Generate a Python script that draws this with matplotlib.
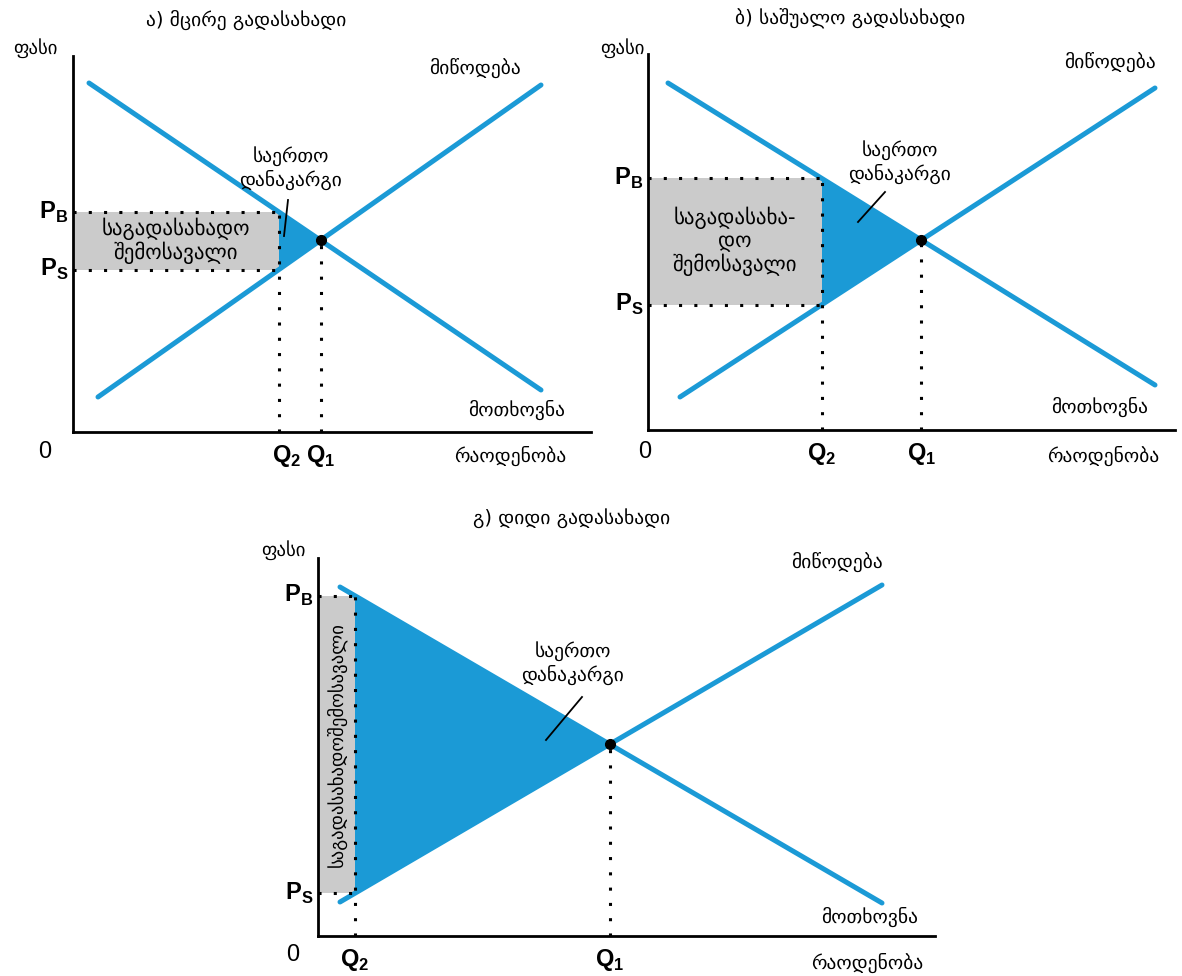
import numpy as np
import matplotlib.pyplot as plt

W, H = 1182, 976
plt.rcParams['font.family'] = ['DejaVu Sans']
plt.rcParams['mathtext.fontset'] = 'custom'
plt.rcParams['mathtext.rm'] = 'Liberation Sans'
plt.rcParams['mathtext.bf'] = 'Liberation Sans:bold'

BLUE = '#1b9ad6'
GRAY = '#cbcbcb'

# data, in units measured from each panel's origin
titles = ['ა) მცირე გადასახადი', 'ბ) საშუალო გადასახადი', 'გ) დიდი გადასახადი']
demand_x = [[16, 468], [20, 507], [22, 564]]
demand_y = [[349, 42], [347, 45], [349, 33]]
supply_x = [[25, 468], [32, 507], [22, 564]]
supply_y = [[35, 347], [33, 342], [34, 351]]
q2_vals = [206, 174, 37]
revenue_labels = ['საგადასახადო\nშემოსავალი', 'საგადასახა-\nდო\nშემოსავალი', 'საგადასახადოშემოსავალი']
loss_label = 'საერთო\nდანაკარგი'

# layout (pixels): origin x, origin y, axis width, axis height
boxes = [(73, 432, 518, 376), (648, 430, 527, 376), (318, 936, 617, 378)]
title_pos = [(246, 20), (850, 18), (572, 518)]
price_pos = [(35, 48), (622, 48), (283, 550)]
supply_lab = [(475, 68), (1110, 62), (837, 562)]
demand_lab = [(517, 410), (1100, 407), (870, 917)]
qty_lab = [(510, 456), (1103, 456), (867, 963)]
zero_pos = [(45, 452), (645, 452), (293, 955)]
loss_txt = [(218, 264), (252, 268), (255, 273)]
loss_line = [[(215, 232), (211, 196)], [(237, 238), (210, 208)], [(264, 239), (228, 196)]]
q_offsets = [(8, 0), (0, 0), (0, 0)]

fig = plt.figure(figsize=(W / 100, H / 100), dpi=100)


def fx(x):
    return x / W


def fy(y):
    return 1 - y / H


for i in range(3):
    x0, y0, w, h = boxes[i]
    ax = fig.add_axes([x0 / W, 1 - y0 / H, w / W, h / H])
    ax.set_xlim(0, w)
    ax.set_ylim(0, h)
    for s in ['top', 'right']:
        ax.spines[s].set_visible(False)
    for s in ['left', 'bottom']:
        ax.spines[s].set_linewidth(2)
    ax.set_xticks([])
    ax.set_yticks([])
    ax.patch.set_alpha(0)

    dx, dy = demand_x[i], demand_y[i]
    sx, sy = supply_x[i], supply_y[i]
    kd = (dy[1] - dy[0]) / (dx[1] - dx[0])
    ks = (sy[1] - sy[0]) / (sx[1] - sx[0])
    q1 = (sy[0] - ks * sx[0] - dy[0] + kd * dx[0]) / (kd - ks)
    p1 = dy[0] + kd * (q1 - dx[0])
    q2 = q2_vals[i]
    pb = dy[0] + kd * (q2 - dx[0])
    ps = sy[0] + ks * (q2 - sx[0])

    # tax revenue box and deadweight loss
    ax.fill_between([0, q2], ps, pb, color=GRAY, lw=0, zorder=1)
    ax.fill([q2, q2, q1], [pb, ps, p1], color=BLUE, lw=0, zorder=1)

    ax.plot(dx, dy, color=BLUE, lw=3.6, solid_capstyle='round', zorder=3, clip_on=False)
    ax.plot(sx, sy, color=BLUE, lw=3.6, solid_capstyle='round', zorder=3, clip_on=False)

    dot = dict(color='black', ls=(0, (1, 4)), lw=2.2, zorder=4, clip_on=False)
    ax.plot([0, q2], [pb, pb], **dot)
    ax.plot([0, q2], [ps, ps], **dot)
    ax.plot([q2, q2], [0, pb], **dot)
    ax.plot([q1, q1], [0, p1], **dot)
    ax.plot(q1, p1, 'o', color='black', ms=7, zorder=5)

    # labels inside areas
    if i < 2:
        ax.text(q2 / 2, (pb + ps) / 2, revenue_labels[i], ha='center', va='center',
                fontsize=15, linespacing=1.1, zorder=6)
    else:
        ax.text(q2 / 2, (pb + ps) / 2, revenue_labels[i], ha='center', va='center',
                fontsize=13.5, rotation=90, zorder=6)
    tx, ty = loss_txt[i]
    ax.text(tx, ty, loss_label, ha='center', va='center', fontsize=14,
            linespacing=1.2, zorder=6)
    (lx0, ly0), (lx1, ly1) = loss_line[i]
    ax.plot([lx0, lx1], [ly0, ly1], color='black', lw=1.3, zorder=6)

    # price labels
    fig.text(fx(x0 - 5), fy(y0 - pb), r'$\mathbf{P}_\mathbf{B}$', ha='right', va='center',
             fontsize=17)
    fig.text(fx(x0 - 5), fy(y0 - ps), r'$\mathbf{P}_\mathbf{S}$', ha='right', va='center',
             fontsize=17)
    ox, oy = q_offsets[i]
    fig.text(fx(x0 + q2 + ox), fy(y0 + 24), r'$\mathbf{Q}_\mathbf{2}$', ha='center',
             va='center', fontsize=17)
    fig.text(fx(x0 + q1 + oy), fy(y0 + 24), r'$\mathbf{Q}_\mathbf{1}$', ha='center',
             va='center', fontsize=17)

    fig.text(fx(title_pos[i][0]), fy(title_pos[i][1]), titles[i], ha='center', va='center',
             fontsize=14)
    fig.text(fx(price_pos[i][0]), fy(price_pos[i][1]), 'ფასი', ha='center', va='center',
             fontsize=13.5)
    fig.text(fx(supply_lab[i][0]), fy(supply_lab[i][1]), 'მიწოდება', ha='center',
             va='center', fontsize=14)
    fig.text(fx(demand_lab[i][0]), fy(demand_lab[i][1]), 'მოთხოვნა', ha='center',
             va='center', fontsize=14)
    fig.text(fx(qty_lab[i][0]), fy(qty_lab[i][1]), 'რაოდენობა', ha='center',
             va='center', fontsize=14)
    fig.text(fx(zero_pos[i][0]), fy(zero_pos[i][1]), '0', ha='center', va='center',
             fontsize=17, family='Liberation Sans')

fig.savefig('out.png', dpi=100)
